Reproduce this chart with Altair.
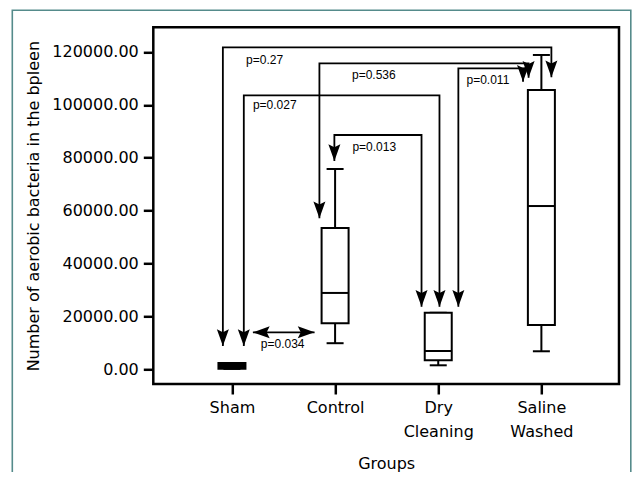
import altair as alt
import pandas as pd

# ---------------- data ----------------
groups = ["Sham", "Control", "Dry Cleaning", "Saline Washed"]
group_pos = [1, 2, 3, 4]
whisker_low = [200, 9900, 1550, 6850]
q1 = [200, 17400, 3450, 16800]
median = [1300, 28900, 6950, 61750]
q3 = [2400, 53450, 21400, 105600]
whisker_high = [2400, 75750, 21400, 118850]

y_ticks = [0, 20000, 40000, 60000, 80000, 100000, 120000]

# comparison brackets (x in group units, y in bacteria counts)
p_labels = ["p=0.27", "p=0.536", "p=0.011", "p=0.027", "p=0.013"]
bracket_from = [0.912, 1.848, 3.195, 1.115, 1.993]
bracket_to = [4.097, 3.876, 3.822, 3.012, 2.838]
bracket_top = [121750, 115700, 113800, 103600, 88600]
bracket_tip_from = [8850, 57100, 23700, 8850, 78800]
bracket_tip_to = [110400, 110200, 108700, 23700, 23700]
label_x = [1.137, 2.164, 3.274, 1.203, 2.168]
label_y = [116950, 111300, 109400, 99950, 84200]

pair_label = ["p=0.034"]
pair_from = [1.203]
pair_to = [1.801]
pair_y = [14000]
pair_label_x = [1.492]
pair_label_y = [9600]

x_domain = [0.286, 4.704]
y_domain = [-5520, 129310]

# ---------------- tables ----------------
box_df = pd.DataFrame({
    "group": groups, "pos": group_pos, "lo": whisker_low, "q1": q1,
    "med": median, "q3": q3, "hi": whisker_high,
})

line_rows, tip_rows = [], []
for i, lab in enumerate(p_labels):
    pts = [(bracket_from[i], bracket_tip_from[i]), (bracket_from[i], bracket_top[i]),
           (bracket_to[i], bracket_top[i]), (bracket_to[i], bracket_tip_to[i])]
    for k, (xx, yy) in enumerate(pts):
        line_rows.append({"id": lab, "k": k, "x": xx, "y": yy})
    tip_rows.append({"x": bracket_from[i], "y": bracket_tip_from[i]})
    tip_rows.append({"x": bracket_to[i], "y": bracket_tip_to[i]})
line_df = pd.DataFrame(line_rows)
tip_df = pd.DataFrame(tip_rows)
label_df = pd.DataFrame({"label": p_labels, "x": label_x, "y": label_y})
pair_df = pd.DataFrame({"label": pair_label, "x": pair_from, "x2": pair_to, "y": pair_y,
                        "lx": pair_label_x, "ly": pair_label_y})

# ---------------- encodings ----------------
FONT = "DejaVu Sans"
parts = []
for p, g in zip(group_pos, groups):
    w = g.split(" ")
    lab = "'" + w[0] + "'" if len(w) == 1 else "[" + ", ".join("'" + s + "'" for s in w) + "]"
    parts.append((p, lab))
expr = parts[-1][1]
for p, lab in reversed(parts[:-1]):
    expr = f"datum.value == {p} ? {lab} : ({expr})"

x_axis = alt.Axis(values=group_pos, labelExpr=expr, title="Groups", grid=False, domain=False,
                  tickSize=10, tickWidth=2.5, tickColor="black", labelAngle=0,
                  labelFont=FONT, labelFontSize=16, labelColor="black", labelLineHeight=24,
                  labelPadding=5, titleFont=FONT, titleFontSize=16, titleFontWeight="normal",
                  titleColor="black", titlePadding=16)
y_axis = alt.Axis(values=y_ticks, format=".2f", title="Number of aerobic bacteria in the bpleen",
                  grid=False, domain=False, tickSize=10, tickWidth=2.5, tickColor="black",
                  labelFont=FONT, labelFontSize=16, labelColor="black", labelPadding=5,
                  titleFont=FONT, titleFontSize=16, titleFontWeight="normal", titleColor="black",
                  titlePadding=10)
xs = alt.Scale(domain=x_domain, nice=False, zero=False)
ys = alt.Scale(domain=y_domain, nice=False, zero=False)


def X(f):
    return alt.X(f"{f}:Q", scale=xs, axis=x_axis, title="Groups")


def Y(f):
    return alt.Y(f"{f}:Q", scale=ys, axis=y_axis, title="Number of aerobic bacteria in the bpleen")


BOX_W = 27
CAP_W = 17
DOWN = "M0,0L-1,-2.8L0,-2.3L1,-2.8Z"
LEFT = "M0,0L2.8,-1L2.3,0L2.8,1Z"
RIGHT = "M0,0L-2.8,-1L-2.3,0L-2.8,1Z"

border = alt.Chart(box_df.head(1)).mark_rect(
    fill=None, stroke="#558b8b", strokeWidth=1.6, clip=False
).encode(x=alt.value(-141), x2=alt.value(477.5), y=alt.value(-17), y2=alt.value(500))

box = alt.Chart(box_df)
whisk_lo = box.mark_rule(color="black", strokeWidth=2).encode(x=X("pos"), y=Y("lo"), y2="q1")
whisk_hi = box.mark_rule(color="black", strokeWidth=2).encode(x=X("pos"), y=Y("q3"), y2="hi")
cap_lo = box.mark_tick(color="black", orient="horizontal", size=CAP_W, thickness=2, opacity=1).encode(
    x=X("pos"), y=Y("lo"))
cap_hi = box.mark_tick(color="black", orient="horizontal", size=CAP_W, thickness=2, opacity=1).encode(
    x=X("pos"), y=Y("hi"))
boxes = box.mark_bar(size=BOX_W, stroke="black", strokeWidth=2, opacity=1).encode(
    x=X("pos"), y=Y("q1"), y2="q3",
    fill=alt.condition(alt.datum.group == "Sham", alt.value("black"), alt.value("white")))
meds = box.mark_tick(color="black", orient="horizontal", size=BOX_W, thickness=2, opacity=1).encode(
    x=X("pos"), y=Y("med"))

lines = alt.Chart(line_df).mark_line(color="black", strokeWidth=1.8, strokeJoin="miter").encode(
    x=X("x"), y=Y("y"), detail="id:N", order="k:Q")
tips = alt.Chart(tip_df).mark_point(shape=DOWN, filled=True, size=144, color="black",
                                    opacity=1, strokeWidth=0).encode(x=X("x"), y=Y("y"))
labels = alt.Chart(label_df).mark_text(align="left", baseline="middle", font="Liberation Sans",
                                       fontSize=12, color="black").encode(
    x=X("x"), y=Y("y"), text="label:N")

pair = alt.Chart(pair_df)
pair_line = pair.mark_rule(color="black", strokeWidth=1.8).encode(x=X("x"), x2="x2", y=Y("y"))
pair_l = pair.mark_point(shape=LEFT, filled=True, size=144, color="black", opacity=1,
                         strokeWidth=0).encode(x=X("x"), y=Y("y"))
pair_r = pair.mark_point(shape=RIGHT, filled=True, size=144, color="black", opacity=1,
                         strokeWidth=0).encode(x=X("x2"), y=Y("y"))
pair_text = pair.mark_text(align="center", baseline="middle", font="Liberation Sans",
                           fontSize=12, color="black").encode(x=X("lx"), y=Y("ly"), text="label:N")

chart = alt.layer(
    border, whisk_lo, whisk_hi, cap_lo, cap_hi, boxes, meds, lines, tips, labels,
    pair_line, pair_l, pair_r, pair_text,
).properties(
    width=465.7, height=356.7,
    autosize=alt.AutoSizeParams(type="none"),
    padding={"left": 145.3, "top": 19.3, "right": 13, "bottom": 88},
    background="white",
).configure_view(stroke="black", strokeWidth=2.5)

chart.save("out.html", embed_options={"renderer": "svg", "actions": False})
